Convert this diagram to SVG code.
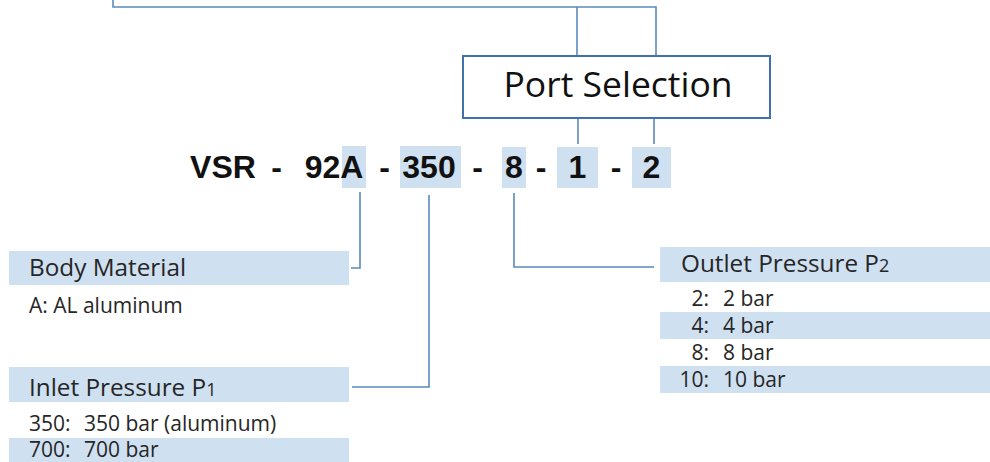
<svg xmlns="http://www.w3.org/2000/svg" width="990" height="462" viewBox="0 0 990 462">
<style>
.bar{fill:#cfe0f1}
.conn{fill:none;stroke:#5a89bf;stroke-width:1.6}
.code{font-family:"Liberation Sans",Arial,sans-serif;font-weight:bold;font-size:32px;fill:#111;text-anchor:middle}
.hd{font-family:"Open Sans","Noto Sans",sans-serif;font-size:24.3px;fill:#262626}
.it{font-family:"Open Sans","Noto Sans",sans-serif;font-size:21px;fill:#262626}
.sub{font-size:18px}
</style>
<rect width="990" height="462" fill="#fff"/>
<g id="connectors">
<polyline class="conn" points="113,0 113,7 656,7 656,56"/>
<line class="conn" x1="577" y1="7" x2="577" y2="56"/>
<line class="conn" x1="578" y1="119" x2="578" y2="144"/>
<line class="conn" x1="654" y1="119" x2="654" y2="144"/>
<polyline class="conn" points="360,192 360,268 351,268"/>
<polyline class="conn" points="429,195 429,387 352,387"/>
<polyline class="conn" points="514,193 514,267 654,267"/>
</g>
<g id="port-selection">
<rect x="463" y="56" width="307" height="62" fill="#fff" stroke="#3f70b0" stroke-width="2"/>
<text x="618" y="97" font-family="'Open Sans','Noto Sans',sans-serif" font-size="35.5" fill="#111" text-anchor="middle">Port Selection</text>
</g>
<g id="model-code">
<rect class="bar" x="342" y="146" width="24" height="42"/>
<rect class="bar" x="400" y="146" width="61" height="42"/>
<rect class="bar" x="502" y="147" width="24" height="41"/>
<rect class="bar" x="557" y="147" width="41" height="41"/>
<rect class="bar" x="632" y="147" width="39" height="41"/>
<text class="code" x="223" y="178">VSR</text>
<text class="code" x="276.5" y="178">-</text>
<text class="code" x="334" y="178">92A</text>
<text class="code" x="384.5" y="178">-</text>
<text class="code" x="429" y="178">350</text>
<text class="code" x="477.5" y="178">-</text>
<text class="code" x="514" y="178">8</text>
<text class="code" x="541" y="178">-</text>
<text class="code" x="577.5" y="178">1</text>
<text class="code" x="616" y="178">-</text>
<text class="code" x="651.5" y="178">2</text>
</g>
<g id="body-material">
<rect class="bar" x="9" y="251" width="340" height="34"/>
<text class="hd" x="29" y="276">Body Material</text>
<text class="it" x="29" y="313">A: AL aluminum</text>
</g>
<g id="inlet-pressure">
<rect class="bar" x="9" y="367" width="340" height="35"/>
<text class="hd" x="29" y="396">Inlet Pressure P<tspan class="sub">1</tspan></text>
<text class="it" x="29" y="431">350:</text>
<text class="it" x="84" y="431">350 bar (aluminum)</text>
<rect class="bar" x="9" y="438" width="340" height="24"/>
<text class="it" x="29" y="457">700:</text>
<text class="it" x="84" y="457">700 bar</text>
</g>
<g id="outlet-pressure">
<rect class="bar" x="660" y="247" width="330" height="35"/>
<text class="hd" x="681" y="272">Outlet Pressure P<tspan class="sub">2</tspan></text>
<text class="it" x="709" y="306" text-anchor="end">2:</text>
<text class="it" x="723" y="306">2 bar</text>
<rect class="bar" x="660" y="312" width="330" height="27"/>
<text class="it" x="709" y="333" text-anchor="end">4:</text>
<text class="it" x="723" y="333">4 bar</text>
<text class="it" x="709" y="360" text-anchor="end">8:</text>
<text class="it" x="723" y="360">8 bar</text>
<rect class="bar" x="660" y="366" width="330" height="27"/>
<text class="it" x="709" y="387" text-anchor="end">10:</text>
<text class="it" x="723" y="387">10 bar</text>
</g>
</svg>
